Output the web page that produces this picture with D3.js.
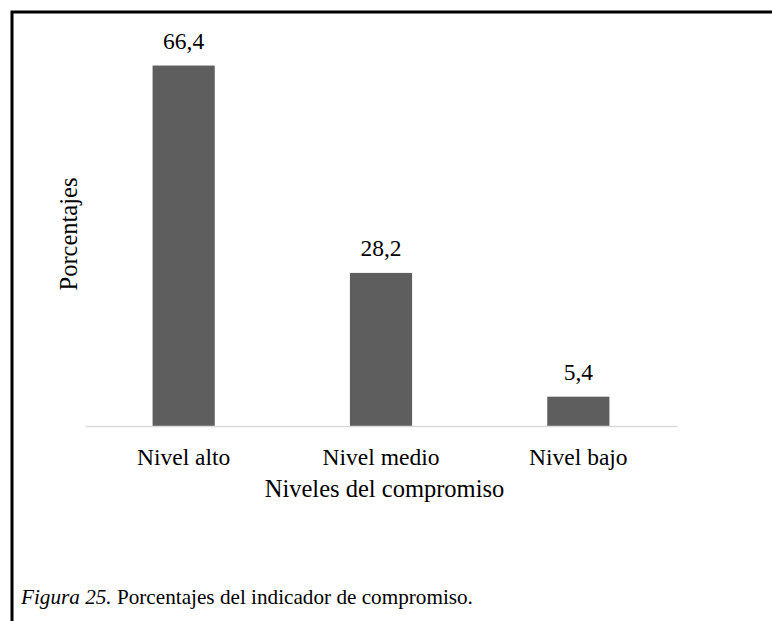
<!DOCTYPE html>
<html>
<head>
<meta charset="utf-8">
<script src="https://cdn.jsdelivr.net/npm/d3@7"></script>
<style>
  html, body { margin: 0; padding: 0; background: #fff; }
  svg { display: block; }
</style>
</head>
<body>
<script>
// Compromiso: porcentaje por nivel
const categories = ["Nivel alto", "Nivel medio", "Nivel bajo"];
const values = [66.4, 28.2, 5.4];
const valueLabels = ["66,4", "28,2", "5,4"];
const xTitle = "Niveles del compromiso";
const yTitle = "Porcentajes";
const caption = "Porcentajes del indicador de compromiso.";
const captionLead = "Figura 25.";

const FONT = "'Liberation Serif', 'Times New Roman', Times, 'DejaVu Serif', serif";
const FS = "23.5px";

const W = 772, H = 621;
const svg = d3.select("body").append("svg")
  .attr("width", W).attr("height", H)
  .attr("font-family", FONT)
  .attr("font-size", FS);

// frame: top and left rules
svg.append("path")
  .attr("d", `M12,${H} V12 H${W}`)
  .attr("fill", "none")
  .attr("stroke", "#000")
  .attr("stroke-width", 3);

const plot = { left: 85, right: 677, top: 46, bottom: 426 };

const x = d3.scaleBand()
  .domain(categories)
  .range([plot.left, plot.right])
  .paddingInner(0.685)
  .paddingOuter(0.3425);

const y = d3.scaleLinear()
  .domain([0, 70])
  .range([plot.bottom, plot.top]);

// bars
svg.append("g").selectAll("rect")
  .data(values)
  .join("rect")
  .attr("x", (d, i) => x(categories[i]))
  .attr("y", d => y(d))
  .attr("width", x.bandwidth())
  .attr("height", d => y(0) - y(d))
  .attr("fill", "#5e5e5e");

// value labels
svg.append("g").selectAll("text")
  .data(values)
  .join("text")
  .attr("x", (d, i) => x(categories[i]) + x.bandwidth() / 2)
  .attr("y", d => y(d) - 17)
  .attr("text-anchor", "middle")
  .attr("fill", "#000")
  .text((d, i) => valueLabels[i]);

// category axis
const xAxis = svg.append("g")
  .attr("transform", `translate(0,${plot.bottom})`)
  .call(d3.axisBottom(x).tickSize(0).tickPadding(22))
  .attr("font-family", FONT)
  .attr("font-size", FS);
xAxis.select(".domain").attr("stroke", "#d9d9d9").attr("stroke-width", 1.5);
xAxis.selectAll(".tick text")
  .attr("fill", "#000")
  .attr("dy", "0.71em");

// axis titles
svg.append("text")
  .attr("x", 384.5)
  .attr("y", 497)
  .attr("text-anchor", "middle")
  .attr("font-size", "24.5px")
  .attr("fill", "#000")
  .text(xTitle);

svg.append("text")
  .attr("transform", "translate(77,234) rotate(-90)")
  .attr("text-anchor", "middle")
  .attr("font-size", "24.5px")
  .attr("fill", "#000")
  .text(yTitle);

// figure caption
const cap = svg.append("text")
  .attr("x", 21)
  .attr("y", 604)
  .attr("font-size", "21.2px")
  .attr("fill", "#000");
cap.append("tspan").attr("font-style", "italic").text(captionLead);
cap.append("tspan").text(" " + caption);
</script>
</body>
</html>
